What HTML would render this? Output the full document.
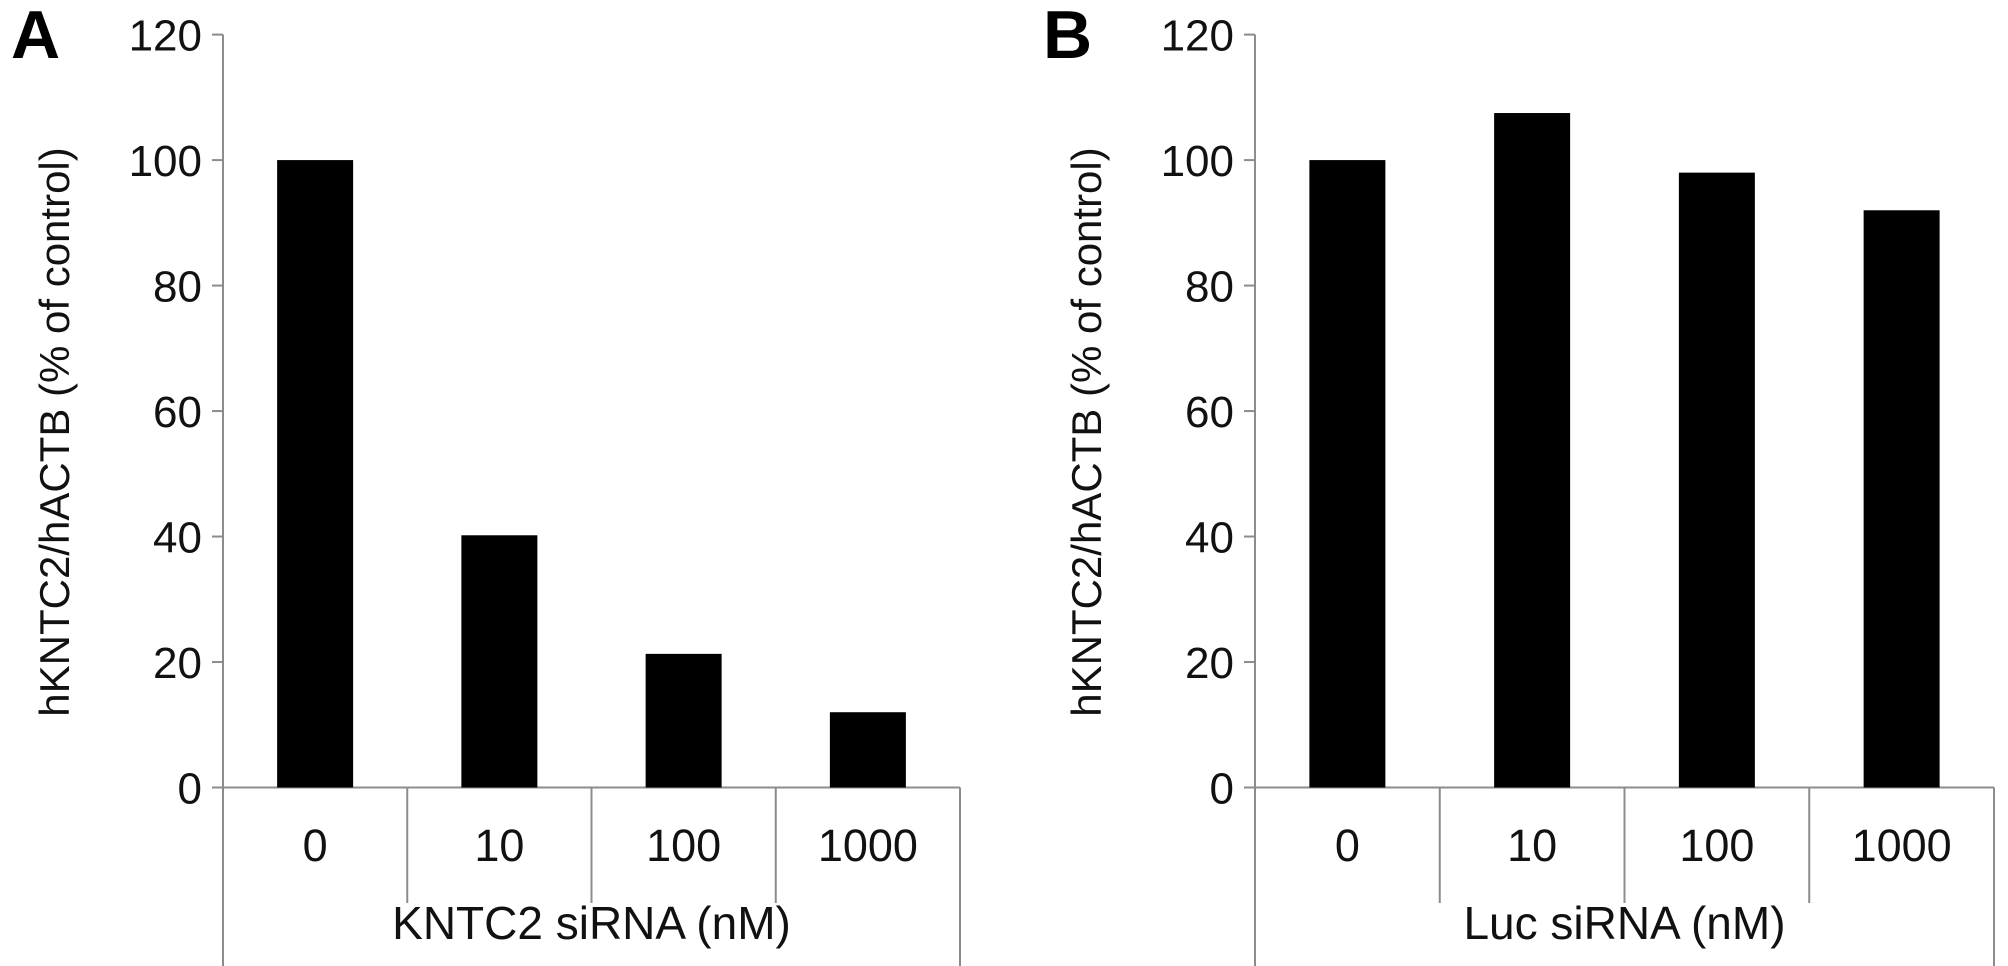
<!DOCTYPE html>
<html><head><meta charset="utf-8"><style>
html,body{margin:0;padding:0;background:#fff;width:2008px;height:966px;overflow:hidden}
svg{display:block;font-family:"Liberation Sans",Arial,sans-serif}
</style></head><body>
<svg id="chart" width="2008" height="966" viewBox="0 0 2008 966" xmlns="http://www.w3.org/2000/svg"></svg>
<script>
const categories = ["0","10","100","1000"];
const valuesA = [100, 40.2, 21.3, 12];
const valuesB = [100, 107.5, 98, 92];
const yTicks = [0,20,40,60,80,100,120];
const panelLetters = ["A","B"];
const xTitles = ["KNTC2 siRNA (nM)","Luc siRNA (nM)"];
const yTitle = "hKNTC2/hACTB (% of control)";

const svg = document.getElementById('chart');
const NS = "http://www.w3.org/2000/svg";
function mk(tag, attrs, parent){
  const e = document.createElementNS(NS, tag);
  for (const k in attrs) e.setAttribute(k, attrs[k]);
  (parent||svg).appendChild(e); return e;
}
const Y0 = 787.5, Y120 = 34.6;
function yScale(v){ return Y0 - (v/120)*(Y0-Y120); }

function panel(ax, axEnd, values, letter, xTitle, key){
  const g = mk('g', {});
  
  
  const catW = (axEnd-ax)/categories.length;
  const xScale = i => ax + catW*(i+0.5);
  const gray = "#8c8c8c";
  const yl = mk('line', {x1:ax, y1:Y120, x2:ax, y2:966, stroke:gray, 'stroke-width':2}, g);
  
  
  yTicks.forEach(t => {
    const y = yScale(t);
    mk('line', {x1:ax-11, y1:y, x2:ax, y2:y, stroke:gray, 'stroke-width':2}, g);
    const tx = mk('text', {x:ax-21, y:y+16, 'text-anchor':'end', 'font-size':44, fill:'#111'}, g);
    tx.textContent = t;
    
    
  });
  const xl = mk('line', {x1:ax, y1:Y0, x2:axEnd, y2:Y0, stroke:gray, 'stroke-width':2}, g);
  
  
  for (let i=1;i<=categories.length;i++){
    const x = ax + catW*i;
    mk('line', {x1:x, y1:Y0, x2:x, y2:(i===categories.length?966:903), stroke:gray, 'stroke-width':2}, g);
  }
  const bw = 76;
  values.forEach((v,i) => {
    const b = mk('rect', {x:xScale(i)-bw/2, y:yScale(v), width:bw, height:Y0-yScale(v), fill:'#000'}, g);
    
    
    const t = mk('text', {x:xScale(i), y:861, 'text-anchor':'middle', 'font-size':45, fill:'#111'}, g);
    t.textContent = categories[i];
    
    
  });
  const xt = mk('text', {x:(ax+axEnd)/2, y:939, 'text-anchor':'middle', 'font-size':46, fill:'#111'}, g);
  xt.textContent = xTitle;
  
  
  const ytx = ax-169, yty = 432;
  const yt = mk('text', {x:ytx+15, y:yty, 'text-anchor':'middle', 'font-size':42, fill:'#111', transform:`rotate(-90 ${ytx+15} ${yty})`}, g);
  yt.textContent = yTitle;
  
  
  const lt = mk('text', {x:ax-212, y:58, 'font-size':68, 'font-weight':'bold', fill:'#000'}, g);
  lt.textContent = letter;
  
  
}
panel(223, 960, valuesA, panelLetters[0], xTitles[0], 'a');
panel(1255, 1994, valuesB, panelLetters[1], xTitles[1], 'b');
</script>
</body></html>
